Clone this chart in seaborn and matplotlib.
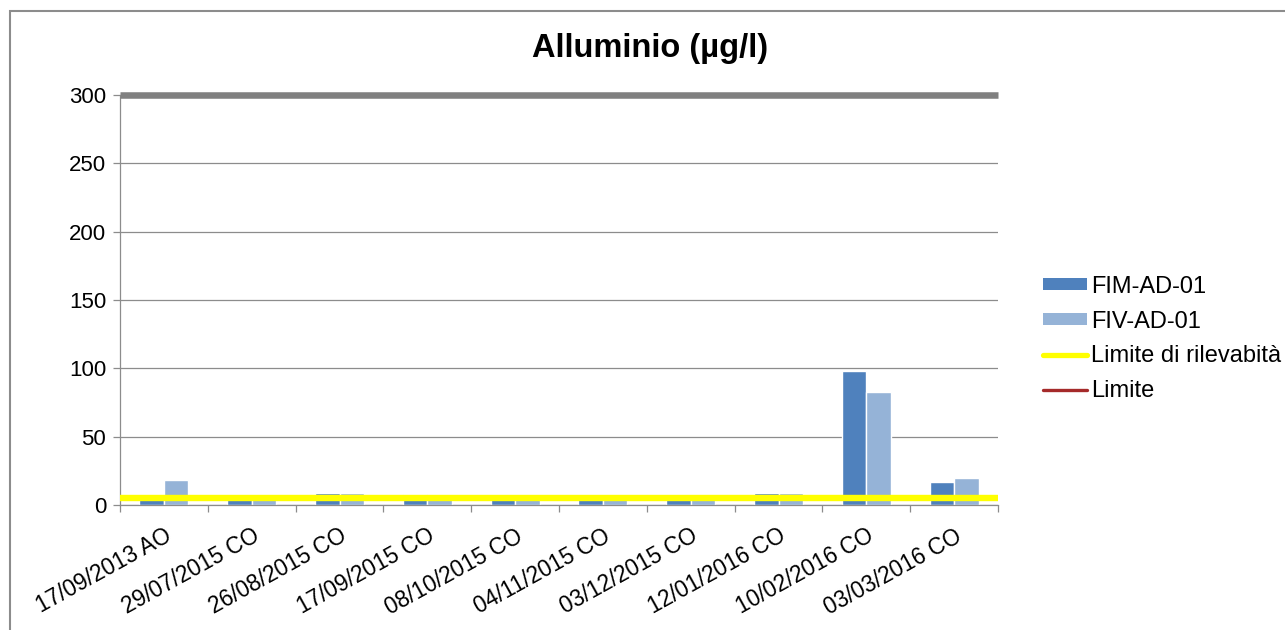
import matplotlib
matplotlib.use("Agg")
import matplotlib.pyplot as plt
import seaborn as sns
import pandas as pd
from matplotlib.lines import Line2D
from matplotlib.patches import Patch, Rectangle

categories = ["17/09/2013 AO", "29/07/2015 CO", "26/08/2015 CO", "17/09/2015 CO",
              "08/10/2015 CO", "04/11/2015 CO", "03/12/2015 CO", "12/01/2016 CO",
              "10/02/2016 CO", "03/03/2016 CO"]
fim_values = [5, 5, 9, 8, 5, 5, 5, 9, 98, 16.5]
fiv_values = [18, 5, 9, 5, 5, 5, 5, 9, 83, 19.5]
series_names = ["FIM-AD-01", "FIV-AD-01"]
limite_rilevabilita = 5
limite = 300
y_ticks = [0, 50, 100, 150, 200, 250, 300]

sns.set_theme(style="white")
plt.rcParams['font.family'] = ['Liberation Sans', 'DejaVu Sans']

df = pd.DataFrame({
    "data": categories * 2,
    "valore": fim_values + fiv_values,
    "serie": [series_names[0]] * len(categories) + [series_names[1]] * len(categories),
})

colors = {"FIM-AD-01": "#4F81BD", "FIV-AD-01": "#95B3D7"}

fig = plt.figure(figsize=(12.85, 6.3), dpi=100)
ax = fig.add_axes([120 / 1285, 1 - 505 / 630, 878 / 1285, 410 / 630])

sns.barplot(data=df, x="data", y="valore", hue="serie", palette=colors,
            width=0.56, saturation=1, ax=ax, legend=False, errorbar=None, zorder=2)

ax.set_ylim(0, 300)
ax.set_xlim(-0.5, len(categories) - 0.5)
ax.set_yticks(y_ticks)
ax.yaxis.grid(True, color="#8C8C8C", linewidth=0.9, zorder=0)
ax.set_axisbelow(True)

# limit lines
ax.axhline(limite_rilevabilita, color="#FFFF00", linewidth=4.6, zorder=3, solid_capstyle="butt")
ax.axhline(limite, color="#808080", linewidth=4.7, zorder=3, clip_on=False, solid_capstyle="butt")

for s in ["top", "right"]:
    ax.spines[s].set_visible(False)
for s in ["left", "bottom"]:
    ax.spines[s].set_color("#8C8C8C")
    ax.spines[s].set_linewidth(0.9)

ax.set_xlabel("")
ax.set_ylabel("")
ax.set_xticks([i - 0.5 for i in range(len(categories) + 1)], minor=True)
ax.set_xticks(range(len(categories)))
ax.set_xticklabels(categories, rotation=29, ha="right", rotation_mode="anchor",
                   fontsize=16.3, color="#000000")
ax.tick_params(axis="x", which="major", length=0, pad=14)
ax.tick_params(axis="x", which="minor", length=5, color="#8C8C8C", width=0.9, direction="out", bottom=True)
ax.tick_params(axis="y", length=5, color="#8C8C8C", width=0.9, direction="out", left=True,
               labelsize=16, labelcolor="#000000", pad=5)

fig.text(650 / 1285, 1 - 48 / 630, "Alluminio (µg/l)", ha="center", va="center",
         fontsize=23.5, fontweight="bold", color="#000000")

handles = [
    Patch(facecolor=colors["FIM-AD-01"], edgecolor="none"),
    Patch(facecolor=colors["FIV-AD-01"], edgecolor="none"),
    Line2D([0], [0], color="#FFFF00", linewidth=3.8),
    Line2D([0], [0], color="#A52A2A", linewidth=2.4),
]
labels = ["FIM-AD-01", "FIV-AD-01", "Limite di rilevabità", "Limite"]
leg = fig.legend(handles, labels, loc="center left", bbox_to_anchor=(1043 / 1285, 1 - 339 / 630),
                 frameon=False, fontsize=17, handlelength=1.85, handleheight=0.45,
                 handletextpad=0.2, labelspacing=0.55, borderaxespad=0, borderpad=0)
for t in leg.get_texts():
    t.set_color("#000000")

# chart border
fig.patches.append(Rectangle((10 / 1285, -0.5), 2.0, 1.5 - 11 / 630, transform=fig.transFigure,
                             fill=False, edgecolor="#8C8C8C", linewidth=1.5))

fig.savefig("out.png", dpi=100)
